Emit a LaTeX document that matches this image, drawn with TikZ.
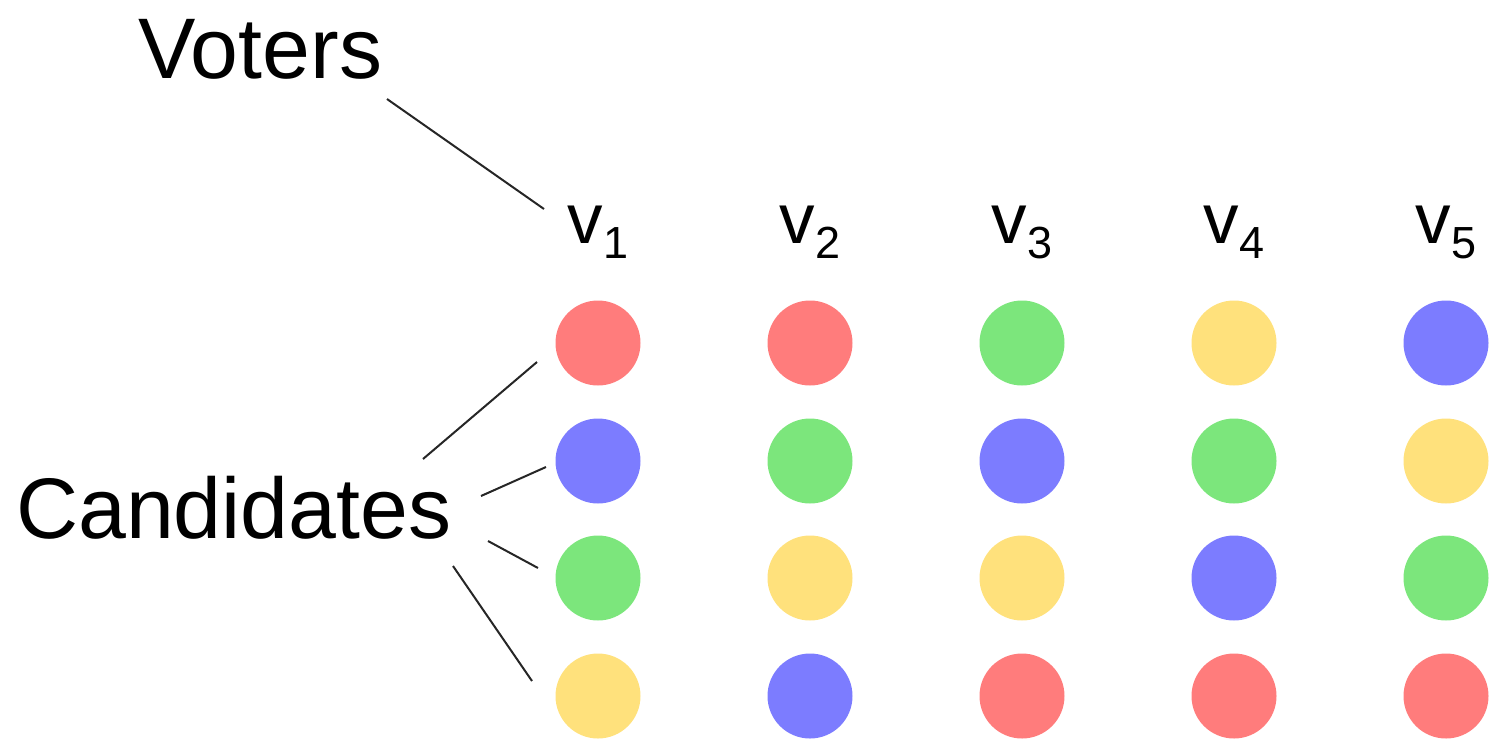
\documentclass[tikz,border=0pt]{standalone}
\usepackage{fontspec}
\setmainfont{Liberation Sans}
\definecolor{cred}{RGB}{255,124,124}
\definecolor{cblue}{RGB}{124,124,255}
\definecolor{cgreen}{RGB}{124,230,124}
\definecolor{cyellow}{RGB}{255,225,124}
\newcommand{\vlab}[1]{\fontsize{71}{80}\selectfont v\raisebox{-15pt}{\fontsize{45}{50}\selectfont #1}}
\begin{document}
\begin{tikzpicture}[x=1pt,y=-1pt,
  dot/.style={circle,inner sep=0pt,minimum size=85pt,fill=#1},
  conn/.style={draw=black!85,line width=2pt},
  big/.style={inner sep=0pt,font=\fontsize{86}{100}\selectfont},
  vl/.style={inner sep=0pt,anchor=base}]
\useasboundingbox (0,0) rectangle (1489,740);
\node[big,anchor=base west] (voters) at (138,78) {Voters};
\node[big,anchor=base west] (cand) at (16,538) {Candidates};
% voter labels
\foreach \i/\x in {1/598,2/810,3/1022,4/1234,5/1446}{
  \node[vl] (v\i) at (\x,243) {\vlab{\i}};
}
% circles: column, rows
\foreach \c/\x/\a/\b/\d/\e in {
  1/598/cred/cblue/cgreen/cyellow,
  2/810/cred/cgreen/cyellow/cblue,
  3/1022/cgreen/cblue/cyellow/cred,
  4/1234/cyellow/cgreen/cblue/cred,
  5/1446/cblue/cyellow/cgreen/cred}{
  \node[dot=\a] (c\c-1) at (\x,343) {};
  \node[dot=\b] (c\c-2) at (\x,461) {};
  \node[dot=\d] (c\c-3) at (\x,578) {};
  \node[dot=\e] (c\c-4) at (\x,696) {};
}
% connector end points
\coordinate (vs) at (387,99);
\coordinate (ve) at (544,209);
\coordinate (a1) at (423,459); \coordinate (b1) at (537,362);
\coordinate (a2) at (481,496); \coordinate (b2) at (546,467);
\coordinate (a3) at (488,541); \coordinate (b3) at (538,568);
\coordinate (a4) at (453,566); \coordinate (b4) at (532,681);
\draw[conn] (vs) -- (ve);
\draw[conn] (a1) -- (b1);
\draw[conn] (a2) -- (b2);
\draw[conn] (a3) -- (b3);
\draw[conn] (a4) -- (b4);
\end{tikzpicture}
\end{document}
